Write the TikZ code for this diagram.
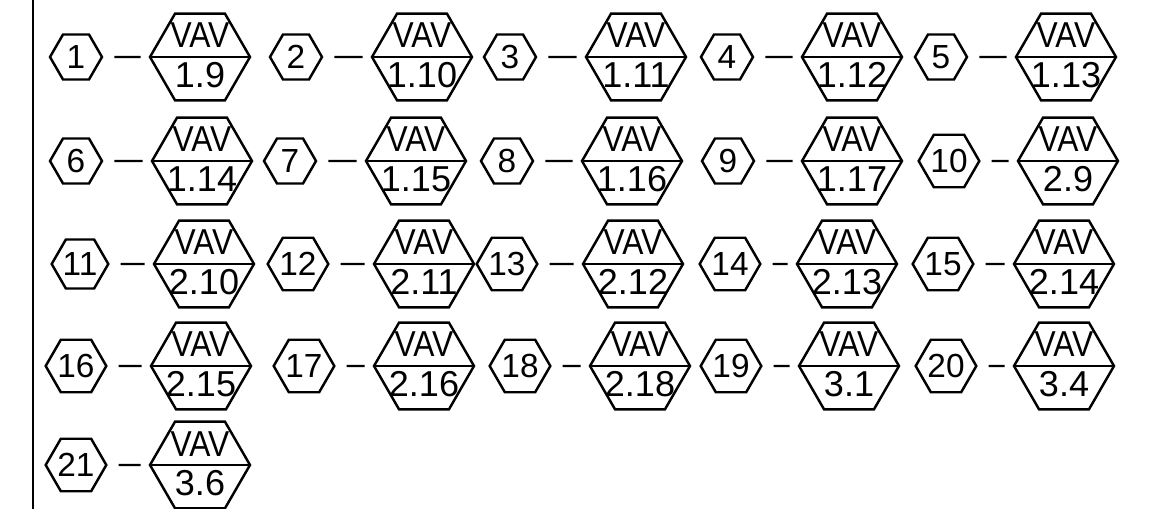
\documentclass[tikz,border=0pt]{standalone}
\usepackage{fontspec}
\setmainfont{Liberation Sans}
\usetikzlibrary{shapes.geometric}
\tikzset{
  tag/.style={draw, regular polygon, regular polygon sides=6, minimum size=1.04cm, inner sep=0pt, line width=1.4pt, font=\fontsize{19}{19}\selectfont},
  vav/.style={draw, regular polygon, regular polygon sides=6, minimum size=2cm, inner sep=0pt, line width=1.4pt},
  vavtext/.style={anchor=base, inner sep=0pt, font=\fontsize{20.5}{20.5}\selectfont},
  tie/.style={line width=1.4pt, shorten <=0.22cm, shorten >=0.16cm}
}

\begin{document}
\begin{tikzpicture}[x=0.02cm, y=-0.02cm]
\useasboundingbox (0,0) rectangle (1153,509);
\draw[line width=1.7pt] (33,0) coordinate (top) -- (33,509) coordinate (bot);
% number tag - VAV box, one per unit
\foreach \i/\sx/\bx/\yy/\lab in {1/76/200/57/1.9, 2/296/422/57/1.10, 3/510/636/57/1.11, 4/727/852/57/1.12, 5/941/1066/57/1.13,
  6/76/202/161/1.14, 7/290/416/161/1.15, 8/507/632/161/1.16, 9/728/852/161/1.17, 10/949/1068/161/2.9,
  11/80/204/264/2.10, 12/298/424/264/2.11, 13/507/633/264/2.12, 14/730/847/264/2.13, 15/943/1064/264/2.14,
  16/76/201/366/2.15, 17/304/424/366/2.16, 18/520/640/366/2.18, 19/731/849/366/3.1, 20/946/1064/366/3.4,
  21/76/200/465/3.6}{
  \node[tag] (n\i) at (\sx,\yy) {\i};
  \node[vav] (v\i) at (\bx,\yy) {};
  \draw[line width=1.4pt] (v\i.west) -- (v\i.east);
  \node[vavtext, xscale=0.88, transform shape] (t\i) at ([yshift=0.18cm]v\i.center) {VAV};
  \node[vavtext] (b\i) at ([yshift=-0.62cm]v\i.center) {\lab};
  \draw[tie] (n\i) -- (v\i);
}
\end{tikzpicture}
\end{document}
